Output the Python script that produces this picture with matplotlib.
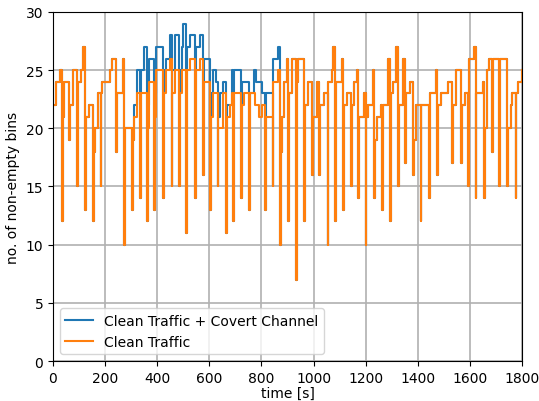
import numpy as np
import matplotlib
matplotlib.use("Agg")
import matplotlib.pyplot as plt

# Clean traffic: change points (time [s], number of non-empty bins), held until the next point
clean_t = [0, 10, 27, 35, 38, 43, 60, 64, 78, 92, 95, 108, 114, 122, 126, 138, 153, 157, 163, 172,
           183, 186, 190, 219, 228, 243, 246, 268, 272, 275, 303, 306, 311, 322, 333, 336, 361, 364,
           368, 388, 391, 395, 423, 426, 435, 449, 455, 458, 468, 484, 487, 496, 512, 515, 525, 544,
           547, 564, 574, 578, 602, 605, 615, 632, 635, 653, 664, 667, 679, 686, 692, 695, 723, 726,
           733, 753, 756, 775, 790, 804, 813, 816, 843, 846, 865, 871, 874, 880, 886, 897, 903, 906,
           918, 932, 935, 940, 964, 967, 980, 993, 996, 1012, 1022, 1025, 1040, 1054, 1057, 1069,
           1076, 1083, 1086, 1108, 1114, 1117, 1127, 1144, 1147, 1155, 1168, 1172, 1175, 1192, 1200,
           1203, 1210, 1227, 1232, 1235, 1245, 1258, 1262, 1265, 1286, 1293, 1296, 1306, 1316, 1325,
           1328, 1345, 1351, 1354, 1370, 1383, 1386, 1392, 1411, 1414, 1444, 1447, 1470, 1474, 1477,
           1490, 1517, 1533, 1536, 1547, 1565, 1568, 1580, 1594, 1597, 1615, 1622, 1625, 1651, 1654,
           1657, 1665, 1675, 1684, 1687, 1713, 1716, 1744, 1747, 1757, 1760, 1775, 1778, 1785, 1798,
           1800]
clean_v = [22, 24, 25, 12, 21, 24, 19, 22, 25, 15, 24, 25, 27, 13, 21, 22, 12, 18, 20, 23,
           15, 23, 24, 25, 26, 18, 23, 26, 10, 20, 13, 19, 21, 23, 14, 23, 12, 20,
           24, 13, 21, 25, 14, 23, 25, 26, 15, 23, 25, 15, 23, 25, 11, 25, 26, 14,
           25, 26, 16, 24, 13, 21, 23, 15, 20, 23, 11, 21, 22, 23, 12, 23, 14, 22,
           23, 13, 23, 22, 21, 22, 13, 21, 15, 24, 25, 10, 18, 21, 24, 26, 12, 23,
           26, 7, 24, 26, 12, 22, 24, 16, 21, 24, 16, 22, 23, 10, 24, 25,
           27, 12, 24, 26, 13, 22, 23, 15, 22, 24, 25, 14, 21, 23, 10,
           21, 22, 25, 14, 19, 21, 22, 13, 22, 26, 12, 23, 24, 27, 15,
           22, 26, 17, 23, 24, 16, 19, 22, 12, 22, 14, 23, 25, 16, 22,
           23, 24, 17, 22, 25, 17, 22, 23, 15, 26, 27, 14, 23, 24, 14,
           20, 25, 26, 18, 26, 15, 26, 15, 20, 22, 23, 14, 23, 24, 25,
           25]

# Clean traffic + covert channel: change points where it differs from the clean traffic
covert_t = [303, 306, 311, 322, 333, 336, 348, 361, 364, 368, 388, 391, 395, 423, 426, 435, 449,
            455, 458, 468, 484, 487, 496, 500, 512, 515, 525, 544, 547, 564, 574, 578, 602, 605,
            615, 625, 632, 635, 642, 653, 664, 667, 679, 686, 692, 695, 723, 726, 733, 753, 756,
            770, 780, 790, 804, 813, 816, 843, 846, 865, 871]
covert_v = [13, 19, 22, 25, 14, 25, 27, 12, 22, 26, 13, 23, 27, 14, 25, 26, 28,
            15, 25, 28, 15, 25, 27, 29, 11, 27, 28, 14, 27, 28, 16, 26, 13, 23,
            25, 24, 15, 21, 23, 24, 11, 22, 22, 25, 12, 25, 14, 24, 24, 13, 23,
            25, 24, 24, 23, 13, 23, 15, 26, 27, 10]

clean_t = np.array(clean_t)
clean_v = np.array(clean_v)
before = clean_t < covert_t[0]
after = clean_t > covert_t[-1]
cov_t = np.concatenate([clean_t[before], covert_t, clean_t[after]])
cov_v = np.concatenate([clean_v[before], covert_v, clean_v[after]])

fig = plt.figure(figsize=(5.39, 4.02), dpi=100)
ax = fig.add_axes([0.0983, 0.0995, 0.8702, 0.8682])

ax.plot(cov_t, cov_v, drawstyle="steps-post", color="#1f77b4", lw=1.5,
        label="Clean Traffic + Covert Channel")
ax.plot(clean_t, clean_v, drawstyle="steps-post", color="#ff7f0e", lw=1.5,
        label="Clean Traffic")

ax.set_xlim(0, 1800)
ax.set_ylim(0, 30)
ax.set_xticks(np.arange(0, 1801, 200))
ax.set_yticks(np.arange(0, 31, 5))
ax.grid(True, color="#b0b0b0", linewidth=1.2)
ax.set_axisbelow(True)
ax.set_xlabel("time [s]", labelpad=1)
ax.set_ylabel("no. of non-empty bins")
ax.legend(loc="lower left")

fig.savefig("out.png", dpi=100)
